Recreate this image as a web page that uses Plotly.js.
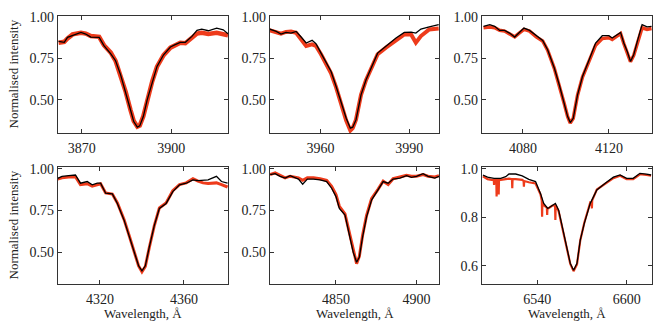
<!DOCTYPE html>
<html>
<head>
<meta charset="utf-8">
<script src="https://cdn.plot.ly/plotly-3.0.1.min.js"></script>
<style>
  html, body { margin: 0; padding: 0; background: #fff; }
  #chart { width: 664px; height: 332px; }
</style>
</head>
<body>
<div id="chart"></div>
<script>
// H zeta
const wl1 = [3862.2,3864.1,3865.2,3866.9,3869.7,3871.3,3873.0,3875.8,3877.4,3879.7,3881.3,3883.0,3884.7,3886.3,3887.4,3888.6,3889.4,3890.6,3891.9,3893.6,3895.2,3897.4,3899.7,3901.3,3903.0,3904.7,3906.9,3908.6,3910.2,3912.4,3915.2,3917.4,3919.0];
const model1 = [0.853,0.847,0.877,0.887,0.907,0.897,0.879,0.877,0.827,0.778,0.736,0.651,0.550,0.440,0.369,0.335,0.343,0.399,0.500,0.611,0.702,0.772,0.819,0.833,0.847,0.847,0.883,0.919,0.927,0.917,0.933,0.923,0.899];
const obs1 = [0.845,0.850,0.870,0.895,0.905,0.900,0.885,0.880,0.830,0.785,0.735,0.650,0.548,0.440,0.372,0.338,0.345,0.400,0.500,0.612,0.700,0.770,0.815,0.828,0.845,0.842,0.875,0.900,0.905,0.898,0.905,0.895,0.890];

// H epsilon
const wl2 = [3942.8,3945.1,3946.7,3948.4,3950.1,3951.8,3953.5,3955.2,3957.2,3958.5,3960.2,3961.9,3963.6,3965.3,3967.0,3968.7,3970.1,3970.9,3972.0,3973.7,3975.4,3977.1,3979.3,3982.1,3985.5,3988.3,3990.6,3992.2,3993.9,3996.7,3999.9];
const model2 = [0.927,0.913,0.897,0.907,0.903,0.913,0.879,0.843,0.859,0.839,0.782,0.722,0.671,0.581,0.480,0.389,0.329,0.335,0.379,0.530,0.621,0.692,0.782,0.823,0.873,0.907,0.909,0.903,0.927,0.940,0.954];
const obs2 = [0.920,0.905,0.900,0.910,0.912,0.905,0.865,0.825,0.835,0.825,0.775,0.715,0.660,0.575,0.475,0.375,0.315,0.330,0.380,0.530,0.620,0.690,0.775,0.815,0.860,0.895,0.895,0.845,0.885,0.925,0.930];

// H delta
const wl3 = [4061.7,4064.6,4066.9,4069.2,4071.5,4073.8,4076.2,4078.0,4080.5,4083.1,4086.2,4089.2,4091.5,4094.6,4096.9,4099.2,4100.8,4102.0,4103.4,4105.4,4107.7,4110.8,4113.8,4116.9,4120.0,4121.5,4123.8,4125.4,4126.9,4128.5,4130.0,4131.5,4133.4,4135.4,4137.7,4139.8];
const model3 = [0.944,0.954,0.944,0.919,0.919,0.903,0.879,0.903,0.933,0.919,0.887,0.859,0.802,0.692,0.591,0.480,0.399,0.363,0.389,0.530,0.641,0.742,0.843,0.887,0.887,0.873,0.893,0.907,0.843,0.792,0.732,0.772,0.863,0.954,0.940,0.944];
const obs3 = [0.935,0.940,0.935,0.920,0.915,0.900,0.880,0.900,0.925,0.915,0.880,0.855,0.800,0.690,0.590,0.478,0.398,0.360,0.388,0.528,0.638,0.735,0.830,0.870,0.875,0.865,0.885,0.900,0.840,0.790,0.730,0.768,0.855,0.935,0.925,0.930];

// H gamma
const wl4 = [4299.2,4301.9,4305.1,4308.3,4310.7,4313.9,4316.3,4318.7,4320.3,4322.7,4325.9,4328.3,4331.5,4333.9,4336.3,4338.4,4340.0,4341.6,4343.5,4345.9,4348.3,4351.5,4354.7,4357.9,4361.1,4364.3,4366.7,4369.1,4371.5,4375.5,4377.9,4380.8];
const model4 = [0.938,0.954,0.958,0.962,0.913,0.923,0.903,0.913,0.913,0.853,0.849,0.792,0.692,0.601,0.500,0.419,0.389,0.419,0.530,0.661,0.762,0.792,0.863,0.903,0.913,0.933,0.929,0.933,0.933,0.954,0.923,0.913];
const obs4 = [0.935,0.945,0.950,0.952,0.905,0.910,0.895,0.905,0.910,0.855,0.848,0.795,0.695,0.600,0.500,0.418,0.383,0.415,0.528,0.660,0.765,0.795,0.868,0.905,0.915,0.940,0.925,0.915,0.912,0.915,0.905,0.890];

// H beta
const wl5 = [4809.1,4812.2,4815.3,4818.4,4821.5,4824.6,4826.7,4829.3,4832.2,4836.0,4840.1,4844.2,4847.3,4850.0,4852.1,4855.6,4858.7,4860.7,4862.8,4864.5,4866.5,4869.0,4872.1,4876.2,4879.3,4882.4,4885.5,4889.7,4893.8,4896.9,4900.0,4904.1,4907.2,4911.4,4914.0];
const model5 = [0.964,0.970,0.954,0.944,0.958,0.944,0.938,0.907,0.938,0.938,0.933,0.923,0.883,0.833,0.762,0.722,0.591,0.500,0.440,0.470,0.591,0.712,0.812,0.873,0.923,0.913,0.938,0.944,0.958,0.948,0.954,0.970,0.954,0.944,0.954];
const obs5 = [0.965,0.975,0.960,0.945,0.955,0.950,0.945,0.930,0.945,0.945,0.940,0.930,0.895,0.845,0.775,0.730,0.600,0.505,0.432,0.475,0.600,0.720,0.820,0.878,0.925,0.905,0.940,0.950,0.960,0.955,0.955,0.965,0.955,0.950,0.958];

// H alpha (observed has telluric spikes)
const wl6 = [6503.6,6506.7,6511.1,6515.6,6518.9,6521.1,6525.6,6530.0,6534.4,6538.9,6542.2,6544.4,6547.1,6550.0,6552.2,6554.4,6556.7,6559.6,6562.2,6564.4,6566.7,6568.9,6571.6,6575.6,6580.0,6585.6,6591.1,6595.6,6600.0,6604.4,6608.9,6613.3,6616.4];
const model6 = [0.975,0.966,0.961,0.961,0.968,0.979,0.979,0.971,0.957,0.948,0.899,0.858,0.837,0.851,0.858,0.830,0.761,0.679,0.610,0.582,0.610,0.706,0.775,0.858,0.913,0.941,0.966,0.975,0.961,0.961,0.982,0.979,0.975];
const wlObs6 = [6503.6,6506.7,6509.5,6510.9,6511.1,6511.3,6512.6,6512.8,6513.0,6514.0,6514.2,6514.4,6515.6,6518.9,6521.1,6523.1,6523.3,6523.5,6525.6,6530.0,6530.9,6531.1,6531.3,6534.4,6538.9,6542.2,6543.1,6543.3,6543.5,6544.4,6546.5,6546.7,6546.9,6547.1,6550.0,6552.0,6552.2,6552.4,6554.4,6556.7,6559.6,6562.2,6564.4,6566.7,6568.9,6571.6,6575.6,6576.5,6576.7,6576.9,6580.0,6585.6,6591.1,6595.6,6600.0,6604.4,6608.9,6613.3,6616.4];
const obs6 = [0.970,0.958,0.955,0.955,0.934,0.955,0.955,0.886,0.955,0.955,0.895,0.955,0.955,0.958,0.960,0.958,0.920,0.958,0.958,0.955,0.950,0.927,0.950,0.945,0.940,0.895,0.870,0.803,0.860,0.850,0.840,0.810,0.838,0.835,0.848,0.850,0.789,0.850,0.825,0.760,0.678,0.608,0.578,0.606,0.705,0.778,0.862,0.860,0.837,0.870,0.915,0.940,0.962,0.972,0.958,0.958,0.978,0.975,0.972];

const xRanges = [[3862, 3919], [3943, 4000], [4061, 4140], [4300, 4381], [4809, 4914], [6503, 6617]];
const xTicks = [[3870, 3900], [3960, 3990], [4080, 4120], [4320, 4360], [4850, 4900], [6540, 6600]];

const panels = [
  {wlObs: wl1, obs: obs1, wl: wl1, model: model1, w: 4.5},
  {wlObs: wl2, obs: obs2, wl: wl2, model: model2, w: 4},
  {wlObs: wl3, obs: obs3, wl: wl3, model: model3, w: 3.5},
  {wlObs: wl4, obs: obs4, wl: wl4, model: model4, w: 3},
  {wlObs: wl5, obs: obs5, wl: wl5, model: model5, w: 3},
  {wlObs: wlObs6, obs: obs6, wl: wl6, model: model6, w: 2.2}
];

const RED = '#ee3b1b';
const FONT = '"Liberation Serif", "DejaVu Serif", serif';

const xDom = [[58/664, 228/664], [270/664, 439/664], [482/664, 652/664]];
const yDom = [[(332-133)/332, (332-16)/332], [(332-284)/332, (332-167)/332]];

const data = [];
const layout = {
  width: 664, height: 332,
  margin: {l: 0, r: 0, t: 0, b: 0},
  paper_bgcolor: '#fff', plot_bgcolor: '#fff',
  showlegend: false,
  font: {family: FONT, size: 14, color: '#222'},
  annotations: []
};

panels.forEach((p, i) => {
  const n = i + 1;
  const sx = n === 1 ? '' : n;
  data.push({x: p.wlObs, y: p.obs, xaxis: 'x' + sx, yaxis: 'y' + sx, mode: 'lines',
    line: {color: RED, width: p.w}});
  data.push({x: p.wl, y: p.model, xaxis: 'x' + sx, yaxis: 'y' + sx, mode: 'lines',
    line: {color: '#000', width: 1.3}});

  const common = {showline: true, linecolor: '#333', linewidth: 1.2, mirror: 'ticks',
    ticks: 'inside', ticklen: 4, tickwidth: 1, tickcolor: '#333', showgrid: false,
    zeroline: false, tickfont: {family: FONT, size: 14, color: '#222'}};
  layout['xaxis' + sx] = Object.assign({}, common, {
    domain: xDom[i % 3], range: xRanges[i], tickvals: xTicks[i],
    anchor: 'y' + sx, ticklabelstandoff: 2
  });
  const yr = i === 5 ? [0.525, 1.008] : (i < 3 ? [0.30, 1.006] : [0.31, 1.01]);
  const yt = i === 5 ? [0.6, 0.8, 1.0] : [0.5, 0.75, 1.0];
  layout['yaxis' + sx] = Object.assign({}, common, {
    domain: yDom[i < 3 ? 0 : 1], range: yr, tickvals: yt,
    tickformat: i === 5 ? '.1f' : '.2f', anchor: 'x' + sx
  });
});

// axis titles
[(yDom[0][0] + yDom[0][1]) / 2, (yDom[1][0] + yDom[1][1]) / 2].forEach(yc => {
  layout.annotations.push({text: 'Normalised intensity', xref: 'paper', yref: 'paper',
    x: 13/664, y: yc, xanchor: 'center', yanchor: 'middle', showarrow: false, textangle: -90,
    font: {family: FONT, size: 13, color: '#222'}});
});
xDom.forEach(d => {
  layout.annotations.push({text: 'Wavelength, Å', xref: 'paper', yref: 'paper',
    x: (d[0] + d[1]) / 2, y: 19/332, xanchor: 'center', yanchor: 'middle', showarrow: false,
    font: {family: FONT, size: 13, color: '#222'}});
});

Plotly.newPlot('chart', data, layout, {displayModeBar: false, staticPlot: true});
</script>
</body>
</html>
